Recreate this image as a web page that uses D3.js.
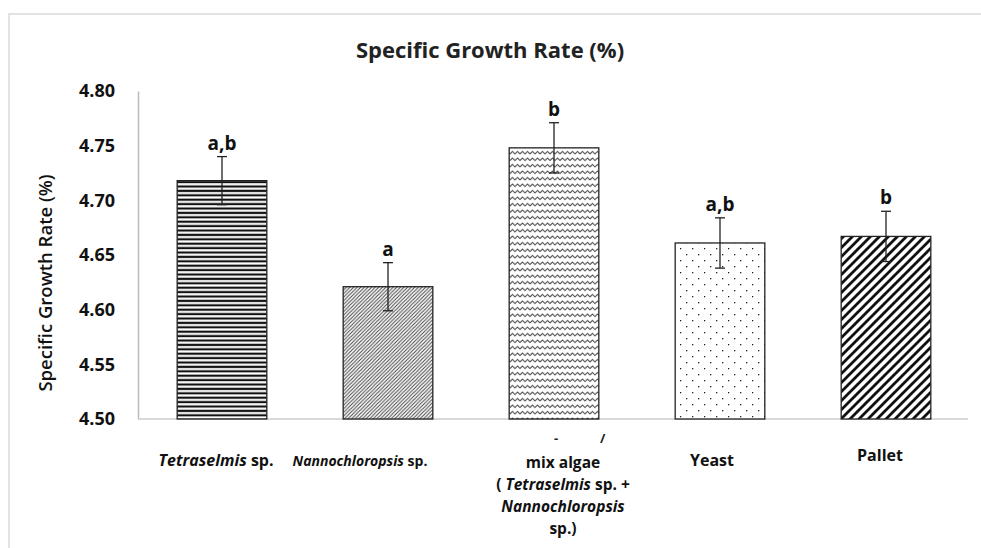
<!DOCTYPE html>
<html>
<head>
<meta charset="utf-8">
<script src="https://cdn.jsdelivr.net/npm/d3@7"></script>
<style>
  body { margin: 0; background: #fff; }
  svg { font-family: "Open Sans", Lato, sans-serif; }
</style>
</head>
<body>
<svg id="chart" width="981" height="548"></svg>
<script>
// data
const categories = ['Tetraselmis', 'Nannochloropsis', 'Mix', 'Yeast', 'Pallet'];
const values = [4.718, 4.621, 4.748, 4.661, 4.667];
const errors = [0.022, 0.022, 0.023, 0.023, 0.023];
const letters = ['a,b', 'a', 'b', 'a,b', 'b'];
const yTicks = [4.50, 4.55, 4.60, 4.65, 4.70, 4.75, 4.80];

// category labels, line by line, each line a list of [text, italic]
const labelLines = [
  [[['Tetraselmis', true], [' sp.', false]]],
  [[['Nannochloropsis', true], [' sp.', false]]],
  [[['mix algae', false]],
   [['( ', false], ['Tetraselmis', true], [' sp. +', false]],
   [['Nannochloropsis', true]],
   [['sp.)', false]]],
  [[['Yeast', false]]],
  [[['Pallet', false]]]
];

const svg = d3.select('#chart');
const margin = { left: 139, right: 12, top: 91, bottom: 130 };
const width = 981, height = 548;

// faint frame
svg.append('path')
  .attr('d', 'M9,548 L9,14 L981,14')
  .attr('fill', 'none')
  .attr('stroke', '#e2e2e2')
  .attr('stroke-width', 2);

const x = d3.scaleBand()
  .domain(categories)
  .range([margin.left, width - margin.right])
  .paddingInner(0.46)
  .paddingOuter(0.23);

const y = d3.scaleLinear()
  .domain([4.50, 4.80])
  .range([height - margin.bottom + 1, margin.top]);

// patterns
const defs = svg.append('defs');

const pHoriz = defs.append('pattern').attr('id', 'p0')
  .attr('patternUnits', 'userSpaceOnUse').attr('width', 8).attr('height', 4.4);
pHoriz.append('rect').attr('width', 8).attr('height', 4.4).attr('fill', '#fff');
pHoriz.append('rect').attr('y', 0.6).attr('width', 8).attr('height', 2.2).attr('fill', '#111');

const pThin = defs.append('pattern').attr('id', 'p1')
  .attr('patternUnits', 'userSpaceOnUse').attr('width', 3.6).attr('height', 3.6);
pThin.append('rect').attr('width', 3.6).attr('height', 3.6).attr('fill', '#fff');
pThin.append('path').attr('d', 'M-1,1 L1,-1 M0,3.6 L3.6,0 M2.6,4.6 L4.6,2.6')
  .attr('stroke', '#444').attr('stroke-width', 1);

const pWave = defs.append('pattern').attr('id', 'p2')
  .attr('patternUnits', 'userSpaceOnUse').attr('width', 10).attr('height', 6.5);
pWave.append('rect').attr('width', 10).attr('height', 6.5).attr('fill', '#fff');
pWave.append('path').attr('d', 'M0,4.5 L2.5,2 L5,4.5 L7.5,2 L10,4.5')
  .attr('fill', 'none').attr('stroke', '#333').attr('stroke-width', 1);

const pDots = defs.append('pattern').attr('id', 'p3')
  .attr('patternUnits', 'userSpaceOnUse').attr('width', 12).attr('height', 12);
pDots.append('rect').attr('width', 12).attr('height', 12).attr('fill', '#fff');
pDots.append('rect').attr('x', 2).attr('y', 2).attr('width', 1.3).attr('height', 1.3).attr('fill', '#222');
pDots.append('rect').attr('x', 8).attr('y', 8).attr('width', 1.3).attr('height', 1.3).attr('fill', '#222');

const pBold = defs.append('pattern').attr('id', 'p4')
  .attr('patternUnits', 'userSpaceOnUse').attr('width', 9).attr('height', 9);
pBold.append('rect').attr('width', 9).attr('height', 9).attr('fill', '#fff');
pBold.append('path').attr('d', 'M-2,2 L2,-2 M0,9 L9,0 M7,11 L11,7')
  .attr('stroke', '#111').attr('stroke-width', 2.8);

const patterns = ['url(#p0)', 'url(#p1)', 'url(#p2)', 'url(#p3)', 'url(#p4)'];

// title
svg.append('text')
  .attr('x', 490).attr('y', 58)
  .attr('text-anchor', 'middle')
  .attr('font-size', 22).attr('font-weight', 'bold')
  .attr('fill', '#222')
  .text('Specific Growth Rate (%)');

// y axis
const yAxis = svg.append('g')
  .attr('transform', `translate(${margin.left - 1},0)`)
  .call(d3.axisLeft(y).tickValues(yTicks).tickFormat(d3.format('.2f')).tickSize(0).tickPadding(23));
yAxis.select('.domain').attr('stroke', '#bbb').attr('stroke-width', 1.5);
yAxis.selectAll('text')
  .attr('font-family', '"Open Sans", sans-serif')
  .attr('font-size', 18).attr('font-weight', 'bold').attr('fill', '#111');

svg.append('text')
  .attr('transform', `translate(52,${(y(4.5) + y(4.8)) / 2 + 28}) rotate(-90)`)
  .attr('text-anchor', 'middle')
  .attr('font-size', 18.5).attr('font-weight', 600)
  .attr('fill', '#111')
  .text('Specific Growth Rate (%)');

// baseline
svg.append('line')
  .attr('x1', margin.left - 1).attr('x2', 968)
  .attr('y1', y(4.5)).attr('y2', y(4.5))
  .attr('stroke', '#ccc').attr('stroke-width', 1.5);

// bars
svg.selectAll('.bar')
  .data(categories)
  .join('rect')
  .attr('class', 'bar')
  .attr('x', d => x(d))
  .attr('y', (d, i) => y(values[i]))
  .attr('width', x.bandwidth())
  .attr('height', (d, i) => y(4.5) - y(values[i]))
  .attr('fill', (d, i) => patterns[i])
  .attr('stroke', '#222')
  .attr('stroke-width', 1.3);

// error bars
const cap = 5;
categories.forEach((c, i) => {
  const cx = x(c) + x.bandwidth() / 2;
  const g = svg.append('g').attr('stroke', '#222').attr('stroke-width', 1.3);
  g.append('line').attr('x1', cx).attr('x2', cx)
    .attr('y1', y(values[i] + errors[i])).attr('y2', y(values[i] - errors[i]));
  g.append('line').attr('x1', cx - cap).attr('x2', cx + cap)
    .attr('y1', y(values[i] + errors[i])).attr('y2', y(values[i] + errors[i]));
  g.append('line').attr('x1', cx - cap).attr('x2', cx + cap)
    .attr('y1', y(values[i] - errors[i])).attr('y2', y(values[i] - errors[i]));

  svg.append('text')
    .attr('x', cx).attr('y', y(values[i] + errors[i]) - 7)
    .attr('text-anchor', 'middle')
    .attr('font-size', 19).attr('font-weight', 'bold').attr('fill', '#111')
    .text(letters[i]);
});

// category labels
const labelShift = [-6, -28, 9, -8, -6];
const labelSize = [16, 14, 15.5, 16, 16];
const labelTop = [466, 466, 468, 466, 461];
categories.forEach((c, i) => {
  const cx = x(c) + x.bandwidth() / 2 + labelShift[i];
  const t = svg.append('text')
    .attr('text-anchor', 'middle')
    .attr('font-size', labelSize[i]).attr('font-weight', 'bold').attr('fill', '#111');
  labelLines[i].forEach((line, j) => {
    line.forEach((seg, k) => {
      const ts = t.append('tspan').text(seg[0])
        .attr('font-style', seg[1] ? 'italic' : 'normal');
      if (k === 0) ts.attr('x', cx).attr('y', labelTop[i] + j * 22);
    });
  });
});

// cut-off marks above the mix algae label
const mixX = x('Mix') + x.bandwidth() / 2;
svg.append('text')
  .attr('x', mixX).attr('y', 443)
  .attr('font-size', 13).attr('font-weight', 'bold').attr('fill', '#222')
  .text('-');
svg.append('text')
  .attr('x', mixX + 46).attr('y', 443)
  .attr('font-size', 13).attr('font-weight', 'bold').attr('fill', '#222')
  .text('/');
</script>
</body>
</html>
